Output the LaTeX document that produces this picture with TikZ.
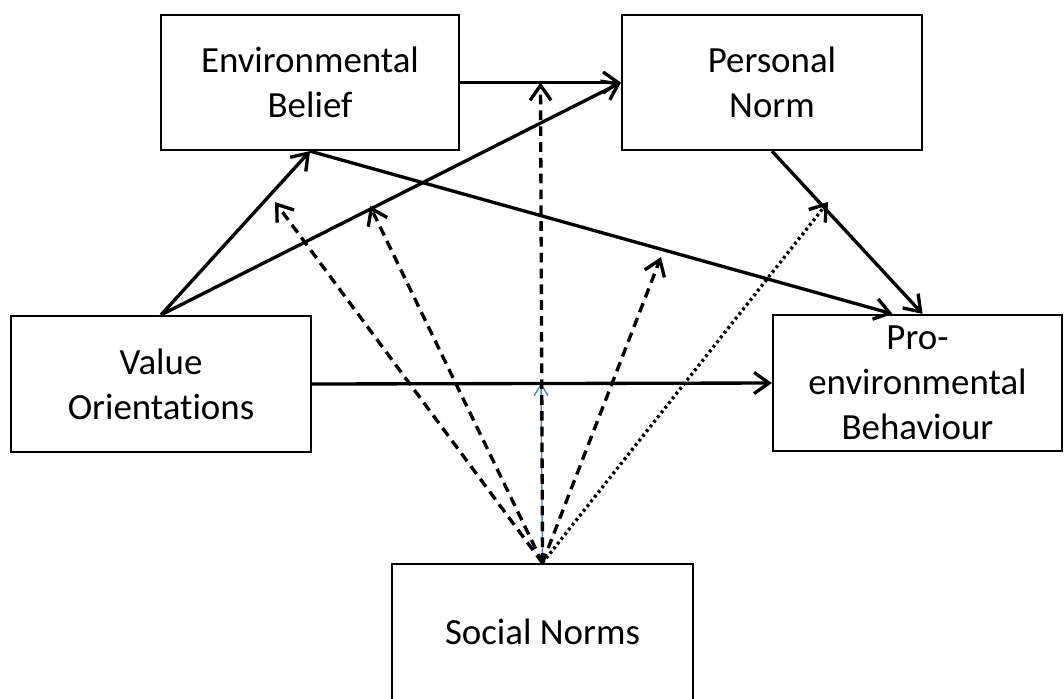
\documentclass[tikz,border=0pt]{standalone}
\usepackage{fontspec}
\setmainfont{Carlito}[Ligatures=NoCommon]
\usetikzlibrary{arrows.meta,calc}
\definecolor{tipblue}{RGB}{79,129,209}

\begin{document}
\begin{tikzpicture}[x=0.02cm,y=-0.02cm,
  box/.style={draw=black,line width=1.3pt,align=center,inner sep=0pt,
    font=\fontsize{21}{25.6}\selectfont},
  link/.style={line width=1.9pt,-{Straight Barb[length=8.5pt,width=12pt]}},
  dashlink/.style={link,dash pattern=on 5.5pt off 3.5pt},
  dotlink/.style={link,dash pattern=on 1.6pt off 1.8pt}]
\useasboundingbox (0,0) rectangle (1064,698);

\node[box,minimum width=5.96cm,minimum height=2.7cm] (EB) at (310,82.5) {Environmental\\Belief};
\node[box,minimum width=6cm,minimum height=2.7cm] (PN) at (772,82.5) {Personal\\Norm};
\node[box,minimum width=6cm,minimum height=2.72cm] (VO) at (161,384) {Value\\Orientations};
\node[box,minimum width=5.78cm,minimum height=2.72cm] (PB) at (917.5,383) {Pro-\\environmental\\Behaviour};
\node[box,minimum width=6.02cm,minimum height=2.72cm] (SN) at (542.5,632) {Social Norms};

\coordinate (T1) at (275,202);
\coordinate (T2) at (370,206);
\coordinate (T3) at ($(EB.east)!0.5!(PN.west)$);
\coordinate (T4) at (661,257);
\coordinate (T5) at (828,202);
\coordinate (Tb) at (541,383);

\draw[link] (EB.east) -- (PN.west);
\draw[link] (VO.north) -- (EB.south);
\draw[link] (VO.north) -- (PN.west);
\draw[link] (EB.south) -- ($(PB.north)+(-25,0)$);
\draw[link] (PN.south) -- ($(PB.north)+(5,0)$);
\draw[link] (VO.east) -- (PB.west);

\draw[tipblue,line width=0.8pt,-{Straight Barb[length=6.5pt,width=8pt]}] (SN.north) -- (Tb);
\draw[dashlink] (SN.north) -- (T1);
\draw[dashlink] (SN.north) -- (T2);
\draw[dashlink] (SN.north) -- (T3);
\draw[dashlink] (SN.north) -- (T4);
\draw[dotlink] (SN.north) -- (T5);

\end{tikzpicture}
\end{document}
